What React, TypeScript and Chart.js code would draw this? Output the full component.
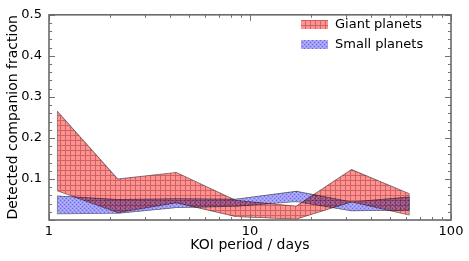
import React, { useEffect, useRef } from "react";
import { Chart, registerables } from "chart.js";
Chart.register(...registerables);

const periods = [1.1, 2.2, 4.3, 8.5, 17, 32, 62];
const giantLower = [0.071, 0.018, 0.042, 0.008, 0.002, 0.044, 0.012];
const giantUpper = [0.265, 0.1, 0.116, 0.048, 0.034, 0.123, 0.064];
const smallLower = [0.015, 0.016, 0.03, 0.033, 0.045, 0.022, 0.024];
const smallUpper = [0.059, 0.05, 0.052, 0.051, 0.07, 0.044, 0.056];
const xTicks = [1, 10, 100];
const xMinorTicks = [2, 3, 4, 5, 6, 7, 8, 9, 20, 30, 40, 50, 60, 70, 80, 90];
const yTicks = [0, 0.1, 0.2, 0.3, 0.4, 0.5];
const seriesLabels = ["Giant planets", "Small planets"];
const xTitle = "KOI period / days";
const yTitle = "Detected companion fraction";

const FONT = "DejaVu Sans";

function makePattern(kind: string): CanvasPattern | string {
  const c = document.createElement("canvas");
  const size = kind === "grid" ? 5 : 4;
  c.width = size;
  c.height = size;
  const g = c.getContext("2d");
  if (!g) return "#f88";
  if (kind === "grid") {
    g.fillStyle = "rgb(255,145,145)";
    g.fillRect(0, 0, size, size);
    g.fillStyle = "rgb(205,100,100)";
    g.fillRect(0, 0, size, 1);
    g.fillRect(0, 0, 1, size);
  } else {
    g.fillStyle = "rgb(160,158,245)";
    g.fillRect(0, 0, size, size);
    g.fillStyle = "rgb(108,105,222)";
    g.fillRect(0, 0, 1, 1);
    g.fillRect(2, 2, 1, 1);
    g.fillStyle = "rgb(188,186,252)";
    g.fillRect(2, 0, 1, 1);
    g.fillRect(0, 2, 1, 1);
  }
  const p = g.createPattern(c, "repeat");
  return p || "#f88";
}

export default function App() {
  const ref = useRef<HTMLCanvasElement | null>(null);

  useEffect(() => {
    if (!ref.current) return;
    const red = makePattern("grid");
    const blue = makePattern("dots");
    const edge = "rgba(110,110,110,0.9)";
    const pts = (arr: number[]) => periods.map((p, i) => ({ x: p, y: arr[i] }));

    const blend = {
      id: "blend",
      beforeDatasetsDraw(chart: any) {
        chart.ctx.save();
        chart.ctx.globalCompositeOperation = "multiply";
      },
      afterDatasetsDraw(chart: any) {
        const { ctx, scales } = chart;
        const { x, y } = scales;
        ctx.strokeStyle = edge;
        ctx.lineWidth = 0.8;
        const bands = [
          [giantLower, giantUpper],
          [smallLower, smallUpper],
        ];
        for (const [lo, hi] of bands) {
          for (const i of [0, periods.length - 1]) {
            const px = x.getPixelForValue(periods[i]);
            ctx.beginPath();
            ctx.moveTo(px, y.getPixelForValue(lo[i]));
            ctx.lineTo(px, y.getPixelForValue(hi[i]));
            ctx.stroke();
          }
        }
        ctx.restore();
      },
    };

    const frame = {
      id: "frame",
      afterDraw(chart: any) {
        const { ctx, chartArea, scales } = chart;
        const { left, right, top, bottom } = chartArea;
        const { x, y } = scales;
        ctx.save();
        ctx.strokeStyle = "#707070";
        ctx.lineWidth = 1;
        const line = (x1: number, y1: number, x2: number, y2: number) => {
          ctx.beginPath();
          ctx.moveTo(x1, y1);
          ctx.lineTo(x2, y2);
          ctx.stroke();
        };
        for (let k = 0; k <= 25; k++) {
          const v = k * 0.02;
          const py = Math.round(y.getPixelForValue(v)) + 0.5;
          const len = k % 5 === 0 ? 6 : 3;
          line(left, py, left + len, py);
          line(right, py, right - len, py);
        }
        for (const v of xTicks) {
          const px = Math.round(x.getPixelForValue(v)) + 0.5;
          line(px, bottom, px, bottom - 6);
          line(px, top, px, top + 6);
        }
        for (const v of xMinorTicks) {
          const px = Math.round(x.getPixelForValue(v)) + 0.5;
          line(px, bottom, px, bottom - 3);
          line(px, top, px, top + 3);
        }
        ctx.lineWidth = 1.6;
        ctx.strokeStyle = "#6a6a6a";
        ctx.strokeRect(left, top, right - left, bottom - top);

        const fills = [red, blue];
        ctx.font = `13px "${FONT}"`;
        ctx.textBaseline = "middle";
        ctx.textAlign = "left";
        seriesLabels.forEach((lab, i) => {
          const cy = 24.5 + 20 * i;
          ctx.fillStyle = fills[i];
          ctx.fillRect(301, cy - 4.5, 27, 9);
          ctx.fillStyle = "#000";
          ctx.fillText(lab, 335, cy + 0.5);
        });
        ctx.restore();
      },
    };

    const chart = new Chart(ref.current, {
      type: "line",
      data: {
        datasets: [
          { label: "giantLower", data: pts(giantLower), borderColor: edge, borderWidth: 0.8, pointRadius: 0, fill: false, tension: 0 },
          { label: seriesLabels[0], data: pts(giantUpper), borderColor: edge, borderWidth: 0.8, pointRadius: 0, fill: "-1", backgroundColor: red as any, tension: 0 },
          { label: "smallLower", data: pts(smallLower), borderColor: edge, borderWidth: 0.8, pointRadius: 0, fill: false, tension: 0 },
          { label: seriesLabels[1], data: pts(smallUpper), borderColor: edge, borderWidth: 0.8, pointRadius: 0, fill: "-1", backgroundColor: blue as any, tension: 0 },
        ],
      },
      options: {
        responsive: false,
        animation: false,
        parsing: false as any,
        layout: { padding: { top: 12, right: 18, left: 0, bottom: 0 } },
        plugins: { legend: { display: false }, tooltip: { enabled: false } },
        scales: {
          x: {
            type: "logarithmic",
            min: 1,
            max: 100,
            grid: { display: false, drawTicks: false },
            border: { display: false },
            afterBuildTicks: (s: any) => {
              s.ticks = xTicks.map((v) => ({ value: v }));
            },
            afterFit: (s: any) => {
              s.height = 41;
            },
            ticks: {
              callback: (v: any) => String(v),
              font: { family: FONT, size: 13 },
              color: "#000",
              padding: 4,
              maxRotation: 0,
              autoSkip: false,
            },
            title: {
              display: true,
              text: xTitle,
              font: { family: FONT, size: 14 },
              color: "#000",
              padding: { top: 8, bottom: 7 },
            },
          },
          y: {
            type: "linear",
            min: 0,
            max: 0.5,
            grid: { display: false, drawTicks: false },
            border: { display: false },
            afterBuildTicks: (s: any) => {
              s.ticks = yTicks.map((v) => ({ value: v }));
            },
            afterFit: (s: any) => {
              s.width = 49;
            },
            ticks: {
              callback: (v: any) => (v === 0 ? "" : Number(v).toFixed(1)),
              font: { family: FONT, size: 13 },
              color: "#000",
              padding: 7,
              autoSkip: false,
            },
            title: {
              display: true,
              text: yTitle,
              font: { family: FONT, size: 14 },
              color: "#000",
              padding: { top: 5, bottom: 5 },
            },
          },
        },
      },
      plugins: [blend, frame],
    });
    return () => chart.destroy();
  }, []);

  return (
    <div style={{ position: "absolute", left: 0, top: 0, width: 469, height: 261, background: "#fff" }}>
      <canvas ref={ref} width={469} height={261} />
    </div>
  );
}
